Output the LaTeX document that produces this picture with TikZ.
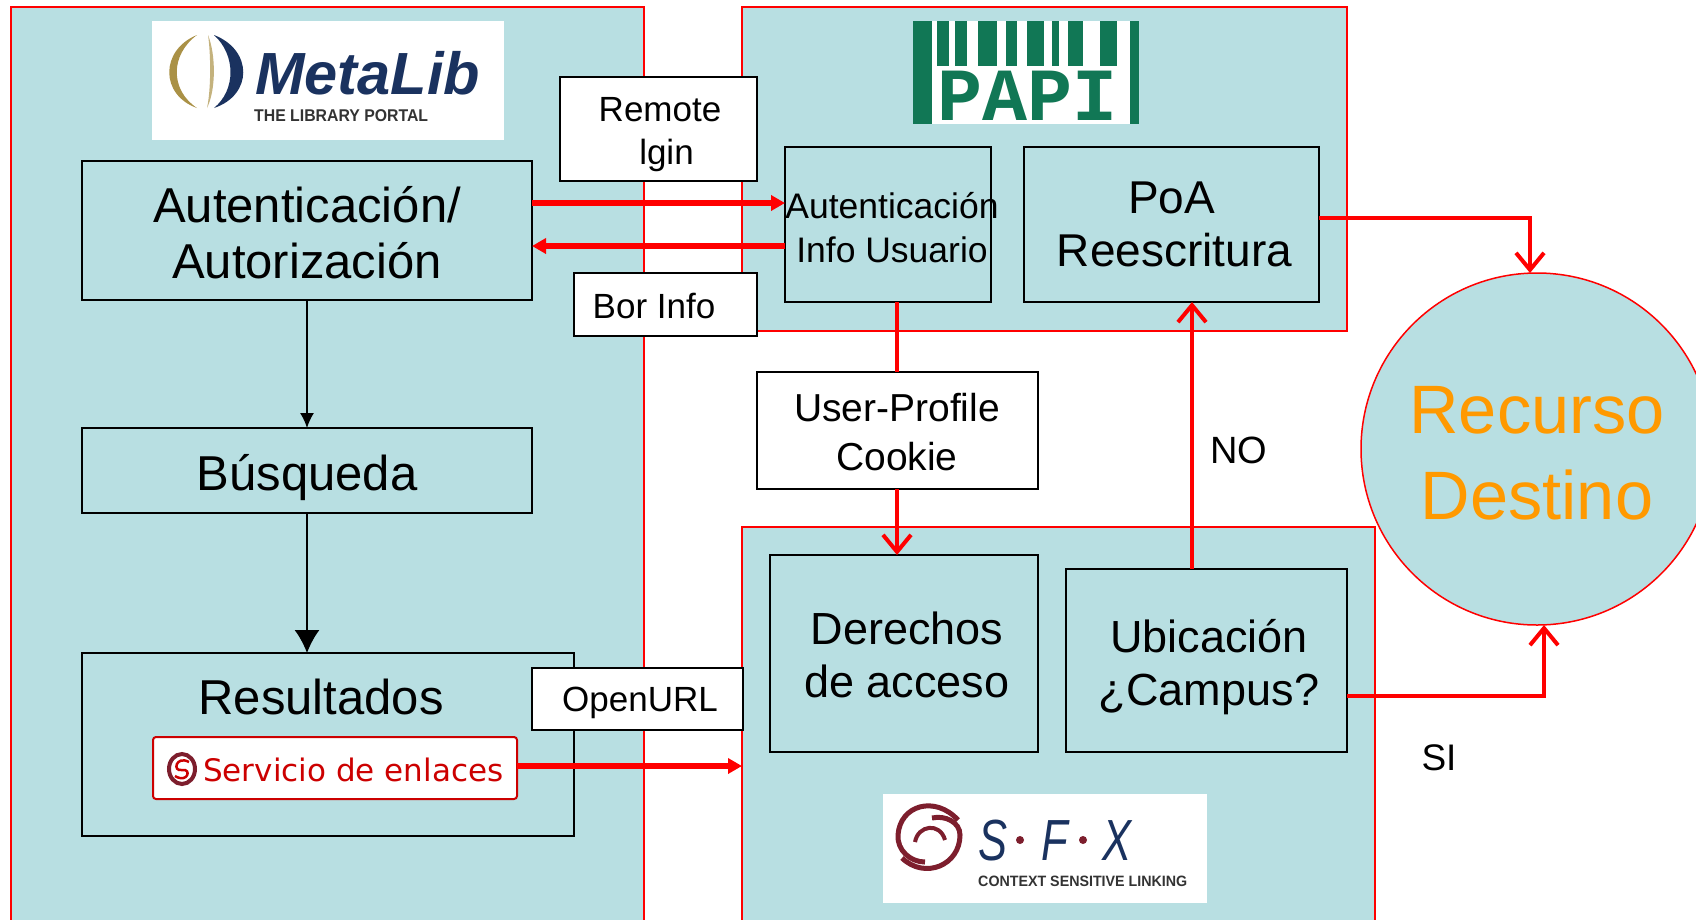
\documentclass[tikz,border=0pt]{standalone}
\usepackage{fontspec}
\setmainfont{Liberation Sans}
\newfontfamily\pixelfont{DejaVu Sans}
\newfontfamily\monofont{Liberation Mono}
\usepackage{tikz}
\usetikzlibrary{shapes, arrows.meta, positioning}
\newcommand{\bajar}[2]{\raisebox{-#1pt}[\height][\depth]{\begin{tabular}{@{}c@{}}#2\end{tabular}}}
\definecolor{panelazul}{RGB}{184,223,226}
\definecolor{naranja}{RGB}{255,153,0}
\definecolor{verdepapi}{RGB}{17,119,85}
\definecolor{azulogo}{RGB}{26,50,95}
\definecolor{oro}{RGB}{170,145,70}
\definecolor{rojosfx}{RGB}{125,30,45}
\tikzstyle{panel} = [draw=red, fill=panelazul, line width=1.5pt]
\tikzstyle{caja} = [draw=black, fill=panelazul, line width=2pt, rectangle, inner sep=0pt, outer sep=0pt, align=center]
\tikzstyle{etiqueta} = [draw=black, fill=white, line width=2pt, rectangle, inner sep=0pt, outer sep=0pt, align=center, font=\fontsize{35}{43}\selectfont]
\tikzstyle{texto} = [inner sep=0pt, align=center]
\tikzstyle{flecharoja} = [red, line width=5.5pt, -{Triangle[length=14pt,width=15pt]}]
\tikzstyle{flechaabierta} = [red, line width=4pt, -{Straight Barb[length=17pt,width=28pt]}]
\tikzstyle{flechanegra} = [black, line width=1.5pt, -{Latex[length=15pt,width=14pt]}]

\begin{document}
\begin{tikzpicture}[x=1pt,y=-1pt]
	\useasboundingbox (0,0) rectangle (1696,919);
	\clip (0,0) rectangle (1696,919);
	% paneles
	\draw[panel] (11,7) rectangle (644,930);
	\draw[panel] (742,7) rectangle (1347,331);
	\draw[panel] (742,527) rectangle (1375,930);
	% logo metalib
	\fill[white] (152,21) rectangle (504,140);
	\fill[oro] (197,35) .. controls (160,50) and (160,95) .. (197,108) .. controls (170,90) and (170,55) .. (197,35);
	\fill[oro!70] (208,35) .. controls (216,55) and (216,90) .. (207,108) .. controls (211,90) and (211,55) .. (208,35);
	\fill[azulogo] (214,35) .. controls (253,50) and (253,95) .. (214,108) .. controls (236,90) and (236,55) .. (214,35);
	\node[texto, text=azulogo, anchor=base west] (metalib) at (255,94) {\fontsize{59.5}{60}\selectfont\bfseries\itshape MetaLib};
	\node[texto, text=black!80, anchor=base west] (portal) at (254,121) {\scalebox{.93}[1]{\fontsize{17}{17}\selectfont\bfseries THE LIBRARY PORTAL}};
	% logo papi
	\fill[white] (913,21) rectangle (1139,124);
	\fill[verdepapi] (913,21) rectangle (932,124);
	\fill[verdepapi] (1130,21) rectangle (1139,124);
	\foreach \ini/\fin in {937/949,955/967,978/997,1006/1017,1027/1044,1052/1059,1068/1083,1100/1117}
		\fill[verdepapi] (\ini,21) rectangle (\fin,66);
	\node[texto, text=verdepapi, anchor=base] (papi) at (1028,120) {\fontsize{75}{75}\selectfont\monofont\bfseries PAPI};
	% logo sfx
	\fill[white] (883,794) rectangle (1207,903);
	\draw[rojosfx, line width=5pt] (958,820) .. controls (935,795) and (900,805) .. (898,835) .. controls (897,850) and (910,862) .. (925,862);
	\draw[rojosfx, line width=5pt] (902,858) .. controls (925,880) and (960,865) .. (960,835) .. controls (960,822) and (945,815) .. (932,818);
	\draw[rojosfx, line width=4pt] (915,842) .. controls (918,825) and (940,822) .. (945,840);
	\node[texto, text=azulogo, anchor=base west] (sfx) at (978,860) {\scalebox{.75}[1]{\fontsize{58}{58}\selectfont\itshape S\hspace{46pt}F\hspace{46pt}X}};
	\fill[rojosfx] (1020,840) circle (4);
	\fill[rojosfx] (1083,840) circle (4);
	\node[texto, text=black!80, anchor=base west] (contexto) at (978,886) {\scalebox{.95}[1]{\fontsize{15}{15}\selectfont\bfseries CONTEXT SENSITIVE LINKING}};
	% metalib
	\node[caja, minimum width=450, minimum height=139, font=\fontsize{49}{56}\selectfont] (auth) at (307,230.5) {\bajar{9}{Autenticación/\\Autorización}};
	\node[caja, minimum width=450, minimum height=85, font=\fontsize{49}{56}\selectfont] (busqueda) at (307,470.5) {\bajar{8.5}{Búsqueda}};
	\node[caja, minimum width=492, minimum height=183] (resultados) at (328,744.5) {};
	\node[texto, font=\fontsize{49}{56}\selectfont, anchor=base] (resultxt) at (321,714) {Resultados};
	\node[draw=red!80!black, fill=white, line width=2pt, rounded corners=3pt, minimum width=364, minimum height=62, inner sep=0pt, outer sep=0pt] (servicio) at (335,768) {};
	\node[texto, text=red!80!black, anchor=base west, font=\fontsize{31}{31}\selectfont\pixelfont] (serviciotxt) at (203,781) {Servicio de enlaces};
	\draw[rojosfx, line width=4pt] (182,769) ellipse (13 and 15);
	\draw[red!80!black, line width=2.5pt] (189,762) .. controls (176,755) and (172,772) .. (182,770) .. controls (192,768) and (188,784) .. (175,776);
	% papi
	\node[caja, minimum width=206, minimum height=155] (autent) at (888,224.5) {};
	\node[texto, font=\fontsize{35.5}{44}\selectfont] (autentxt) at (892,228) {Autenticación\\Info Usuario};
	\node[caja, minimum width=295, minimum height=155, font=\fontsize{46}{53}\selectfont] (poa) at (1171.5,224.5) {PoA\\\hspace*{6pt}Reescritura};
	% sfx
	\node[caja, minimum width=268, minimum height=197, font=\fontsize{45}{53}\selectfont] (derechos) at (904,653.5) {\bajar{6.5}{\hspace*{6pt}Derechos\\\hspace*{6pt}de acceso}};
	\node[caja, minimum width=281, minimum height=183, font=\fontsize{45}{53}\selectfont] (ubicacion) at (1206.5,660.5) {\bajar{7.5}{\hspace*{5pt}Ubicación\\\hspace*{5pt}¿Campus?}};
	% destino
	\node[panel, circle, minimum size=352, inner sep=0pt, outer sep=0pt, text=naranja, align=center, font=\fontsize{68.5}{86}\selectfont] (recurso) at (1537,449) {\bajar{10.5}{Recurso\\Destino}};
	% filas y columnas de las flechas
	\coordinate (filaida) at (0,203);
	\coordinate (filavuelta) at (0,246);
	\coordinate (filaservicio) at (0,766);
	\coordinate (filapoa) at (0,218);
	\coordinate (filasi) at (0,696);
	\coordinate (colno) at (1192,0);
	\coordinate (colpoa) at (1530,0);
	\coordinate (colsi) at (1544,0);
	\draw[flechanegra] (auth.south) -- (busqueda.north);
	\draw[flechanegra, -{Latex[length=23pt,width=25pt]}] (busqueda.south) -- (resultados.north -| busqueda.south);
	\draw[flecharoja] (auth.east |- filaida) -- (autent.west |- filaida);
	\draw[flecharoja] (autent.west |- filavuelta) -- (auth.east |- filavuelta);
	\draw[flecharoja] (servicio.east |- filaservicio) -- (742,766);
	% etiquetas blancas
	\node[etiqueta, minimum width=197, minimum height=104] (remote) at (658.5,129) {\bajar{5}{\hspace*{3pt}Remote\\\hspace*{16pt}lgin}};
	\node[etiqueta, minimum width=183, minimum height=63] (borinfo) at (665.5,304.5) {\bajar{5}{Bor Info\hspace*{23pt}}};
	\node[etiqueta, minimum width=211, minimum height=62] (openurl) at (637.5,699) {\bajar{4}{\hspace*{5pt}OpenURL}};
	\node[etiqueta, minimum width=281, minimum height=117, font=\fontsize{39}{49}\selectfont] (cookie) at (897,430.5) {\bajar{6}{User-Profile\\Cookie}};
	\draw[red, line width=4pt] (autent.south -| cookie) -- (cookie.north);
	\draw[flechaabierta] (cookie.south) -- (derechos.north -| cookie);
	\draw[flechaabierta] (ubicacion.north -| colno) -- (poa.south -| colno);
	\draw[flechaabierta] (poa.east |- filapoa) -| (recurso.north -| colpoa);
	\draw[flechaabierta] (ubicacion.east |- filasi) -| (recurso.south -| colsi);
	\node[texto, font=\fontsize{38}{38}\selectfont] (no) at (1239,450) {NO};
	\node[texto, font=\fontsize{37}{37}\selectfont] (si) at (1439,758) {SI};
\end{tikzpicture}
\end{document}
